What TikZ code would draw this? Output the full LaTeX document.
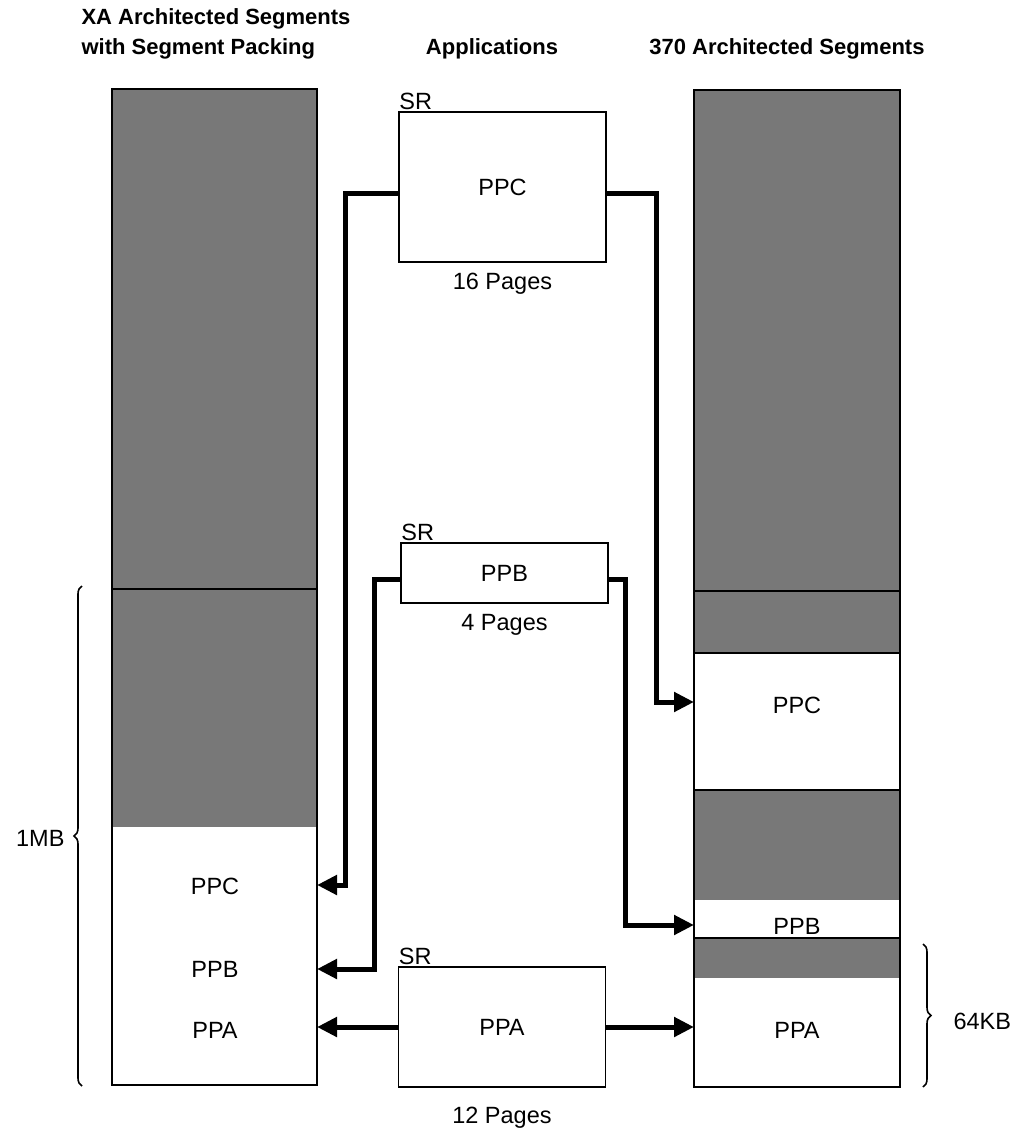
\documentclass[tikz,border=0pt]{standalone}
\usepackage{fontspec}
\setmainfont{Liberation Sans}
\usetikzlibrary{arrows.meta,positioning,decorations.pathreplacing}

\tikzset{
  shade/.style={fill=black!53},
  colbox/.style={draw, line width=1.8pt},
  appbox/.style={draw, line width=1.5pt, fill=white, minimum width=207pt, font=\fontsize{23.5}{27}\selectfont},
  lbl/.style={font=\fontsize{23.5}{27}\selectfont},
  hdr/.style={font=\fontsize{22}{30}\selectfont\bfseries, align=left},
  conn/.style={line width=5pt, -{Triangle[length=20pt,width=19pt]}},
  brc/.style={decorate, decoration={brace, amplitude=8pt}, line width=1.6pt}
}

\begin{document}
\begin{tikzpicture}[x=1pt,y=-1pt]
\useasboundingbox (0,0) rectangle (1020,1130);

% headers
\node[hdr, anchor=west] (hxa) at (78,34) {XA Architected Segments\\with Segment Packing};
\node[hdr] (happ) at (492,49) {Applications};
\node[hdr] (h370) at (787,49) {370 Architected Segments};

% XA column
\fill[shade] (112,89) rectangle (317,827);
\draw[line width=1.8pt] (112,589) -- (317,589);
\draw[colbox] (112,89) rectangle (317,1085);
\node[lbl] (xappc) at (215,886) {PPC};
\node[lbl] (xappb) at (215,969) {PPB};
\node[lbl] (xappa) at (215,1030) {PPA};
\coordinate (xa-c) at (317,885);
\coordinate (xa-b) at (317,969);
\coordinate (xa-a) at (317,1027);

% 370 column
\fill[shade] (694,90) rectangle (900,653);
\fill[shade] (694,790) rectangle (900,900);
\fill[shade] (694,938) rectangle (900,978);
\draw[line width=1.8pt] (694,591) -- (900,591);
\draw[line width=1.2pt] (694,653) -- (900,653) (694,790) -- (900,790) (694,938) -- (900,938);
\draw[colbox] (694,90) rectangle (900,1087);
\node[lbl] (rppc) at (797,705) {PPC};
\node[lbl] (rppb) at (797,926) {PPB};
\node[lbl] (rppa) at (797,1030) {PPA};
\coordinate (r-c) at (694,702);
\coordinate (r-b) at (694,925);
\coordinate (r-a) at (694,1027);

% braces
\draw[brc] (82,1086) -- (82,586);
\node[lbl, anchor=east] (mb) at (68,838) {1MB};
\draw[brc] (923,944) -- (923,1087);
\node[lbl, anchor=west] (kb) at (950,1021) {64KB};

% applications
\node[appbox, minimum height=150pt] (ppcapp) at (502.5,187) {PPC};
\node[lbl, anchor=south west, inner sep=1pt] (src) at (ppcapp.north west) {SR};
\node[lbl, below=7pt of ppcapp] (pgc) {16 Pages};

\node[appbox, minimum height=60pt] (ppbapp) at (504.5,573) {PPB};
\node[lbl, anchor=south west, inner sep=1pt] (srb) at (ppbapp.north west) {SR};
\node[lbl, below=7pt of ppbapp] (pgb) {4 Pages};

\node[appbox, minimum height=120pt] (ppaapp) at (502,1027) {PPA};
\node[lbl, anchor=south west, inner sep=1pt] (sra) at (ppaapp.north west) {SR};
\node[lbl, below=16pt of ppaapp] (pga) {12 Pages};

% connectors
\draw[conn] ([yshift=-6pt]ppcapp.west) -| (345,885) -- (xa-c);
\draw[conn] ([yshift=-6pt]ppcapp.east) -| (656,702) -- (r-c);
\draw[conn] ([yshift=-6pt]ppbapp.west) -| (374,969) -- (xa-b);
\draw[conn] ([yshift=-6pt]ppbapp.east) -| (625,925) -- (r-b);
\draw[conn] (ppaapp.west) -- (xa-a);
\draw[conn] (ppaapp.east) -- (r-a);
\end{tikzpicture}
\end{document}
